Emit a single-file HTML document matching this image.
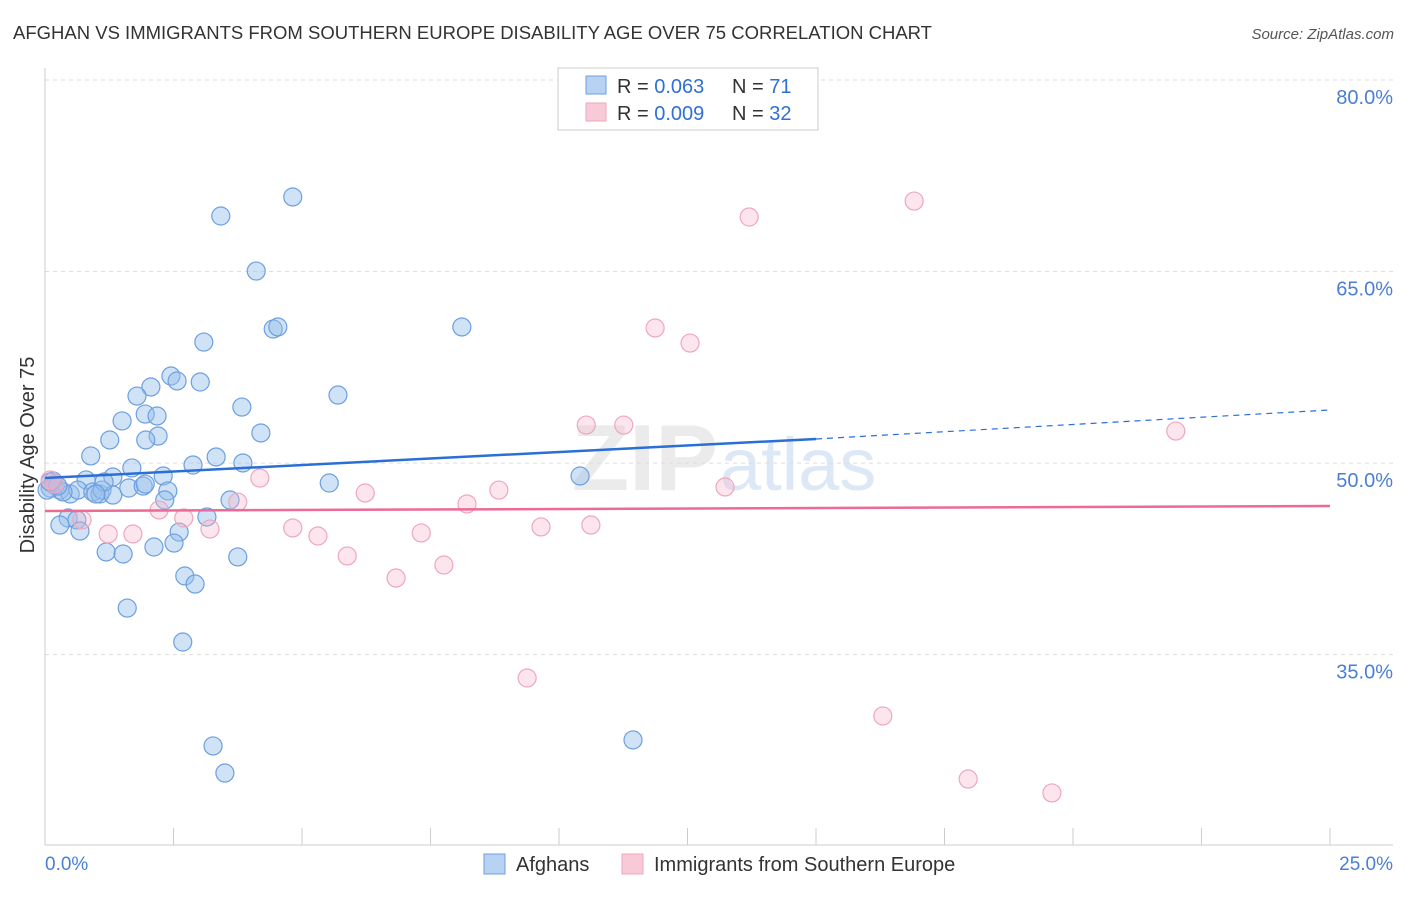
<!DOCTYPE html>
<html><head><meta charset="utf-8"><style>
body{margin:0;background:#fff;font-family:"Liberation Sans",sans-serif}
svg text{font-family:"Liberation Sans",sans-serif}
</style></head><body>
<svg id="c" width="1406" height="892" xmlns="http://www.w3.org/2000/svg">
<text x="13" y="39" font-size="18.5" fill="#333">AFGHAN VS IMMIGRANTS FROM SOUTHERN EUROPE DISABILITY AGE OVER 75 CORRELATION CHART</text>
<text x="1394" y="39" font-size="15" fill="#555" text-anchor="end" font-style="italic">Source: ZipAtlas.com</text>
<text x="718" y="490" font-size="94" fill="#ebebeb" font-family="Liberation Serif" text-anchor="end" font-weight="bold">ZIP</text>
<text x="720" y="490" font-size="74" fill="#dde8f6">atlas</text>
<g id="grid"></g>
<line x1="45" y1="68" x2="45" y2="845" stroke="#ccc"/>
<line x1="45" y1="845" x2="1393" y2="845" stroke="#ccc"/>
<g id="ticks"></g>
<text transform="translate(34,455) rotate(-90)" font-size="20" fill="#333" text-anchor="middle">Disability Age Over 75</text>
<text x="45" y="870" font-size="19" fill="#4a7fd4">0.0%</text>
<text x="1393" y="870" font-size="19" fill="#4a7fd4" text-anchor="end">25.0%</text>
<g id="pts"></g>
<g id="lines"></g>
<g>
<rect x="558" y="68" width="260" height="62" fill="#fff" stroke="#ccc"/>
<rect x="586" y="76" width="20" height="18" fill="#b8d2f3" stroke="#6d9fe0"/>
<rect x="586" y="103" width="20" height="18" fill="#f8c9d6" stroke="#eea7bd"/>
<text x="617" y="93" font-size="20" fill="#333">R = <tspan fill="#2f6fd6">0.063</tspan><tspan x="732">N = </tspan><tspan fill="#2f6fd6">71</tspan></text>
<text x="617" y="120" font-size="20" fill="#333">R = <tspan fill="#2f6fd6">0.009</tspan><tspan x="732">N = </tspan><tspan fill="#2f6fd6">32</tspan></text>
</g>
<g>
<rect x="484" y="854" width="21" height="20" fill="#b8d2f3" stroke="#6d9fe0"/>
<text x="516" y="871" font-size="20" fill="#333">Afghans</text>
<rect x="622" y="854" width="21" height="20" fill="#f8c9d6" stroke="#eea7bd"/>
<text x="654" y="871" font-size="20" fill="#333">Immigrants from Southern Europe</text>
</g>
</svg>
<script>
const yTicks=[80,65,50,35];
const xTicks=[0,2.5,5,7.5,10,12.5,15,17.5,20,22.5,25];
const blueX=[4.82,3.42,4.11,4.44,4.53,8.11,3.09,2.45,3.02,2.57,2.06,1.79,5.70,3.83,1.50,1.95,2.18,2.20,1.96,1.26,4.20,0.89,3.33,3.85,2.88,1.69,2.30,1.32,0.80,10.41,5.53,0.16,0.29,0.49,0.64,0.93,1.07,1.11,1.32,1.63,1.91,2.39,2.33,3.60,0.10,0.19,0.04,0.45,0.62,3.15,0.29,0.68,2.61,2.51,2.12,1.19,1.52,3.75,2.72,2.92,1.60,2.68,3.27,3.50,11.44,1.15,1.95,0.35,0.10,0.25,0.99];
const blueY=[70.84,69.35,65.04,60.5,60.66,60.66,59.48,56.82,56.35,56.43,55.96,55.25,55.33,54.39,53.3,53.84,53.69,52.12,51.81,51.81,52.36,50.56,50.48,50.01,49.85,49.62,48.99,48.91,48.68,48.99,48.44,48.6,47.89,47.58,47.89,47.74,47.58,47.89,47.5,48.05,48.2,47.82,47.11,47.11,48.05,48.28,47.89,45.7,45.55,45.78,45.15,44.68,44.6,43.74,43.43,43.04,42.88,42.65,41.16,40.53,38.65,35.99,27.85,25.73,28.32,48.52,48.36,47.74,48.52,48.2,47.58];
const pinkX=[16.91,13.70,11.87,12.55,22.0,10.53,11.26,0.10,0.19,4.18,3.75,6.23,8.21,8.83,13.23,2.22,2.70,0.72,3.21,4.82,5.31,1.23,1.71,7.32,9.65,10.62,5.88,7.76,6.83,9.38,16.30,17.96,19.59];
const pinkY=[70.52,69.27,60.58,59.4,52.51,52.98,52.98,48.68,48.36,48.83,46.95,47.66,46.8,47.89,48.13,46.33,45.7,45.55,44.84,44.92,44.29,44.45,44.45,44.53,45.0,45.15,42.73,42.02,41.0,33.17,30.2,25.26,24.17];
const blueTrend=[48.83,51.89,54.16]; // at x=0, 15, 25
const pinkTrend=[46.25,46.64]; // at x=0, 25
const NS='http://www.w3.org/2000/svg';
const sx=v=>45+v*51.4;
const sy=v=>80+(80-v)*12.77;
function mk(tag,attrs,parent){const e=document.createElementNS(NS,tag);for(const k in attrs)e.setAttribute(k,attrs[k]);document.getElementById(parent).appendChild(e);return e;}
yTicks.forEach(t=>{
 const g=mk('line',{x1:45,x2:1393,y1:sy(t),y2:sy(t),stroke:'#ddd','stroke-dasharray':'4,4'},'grid');
 
 
 const l=mk('text',{x:1393,y:sy(t)+24,'font-size':20,fill:'#4a7fd4','text-anchor':'end'},'grid');
 l.textContent=t.toFixed(1)+'%';
 
 
});
xTicks.forEach(t=>{
 const k=mk('line',{x1:sx(t),x2:sx(t),y1:828,y2:845,stroke:'#ccc'},'ticks');
 
 
});
blueX.forEach((v,i)=>{
 const c=mk('circle',{cx:sx(v),cy:sy(blueY[i]),r:9,fill:'rgba(150,190,235,0.45)',stroke:'#6d9fe0','stroke-width':1.2},'pts');
 
 
});
pinkX.forEach((v,i)=>{
 const c=mk('circle',{cx:sx(v),cy:sy(pinkY[i]),r:9,fill:'rgba(245,180,200,0.35)',stroke:'#eea7bd','stroke-width':1.2},'pts');
 
 
});
let t1=mk('line',{x1:sx(0),y1:sy(blueTrend[0]),x2:sx(15),y2:sy(blueTrend[1]),stroke:'#2a6fd6','stroke-width':2.5},'lines');


let t2=mk('line',{x1:sx(15),y1:sy(blueTrend[1]),x2:sx(25),y2:sy(blueTrend[2]),stroke:'#2a6fd6','stroke-width':1.2,'stroke-dasharray':'6,5'},'lines');


let t3=mk('line',{x1:sx(0),y1:sy(pinkTrend[0]),x2:sx(25),y2:sy(pinkTrend[1]),stroke:'#ec6a93','stroke-width':2.5},'lines');


</script>
</body></html>
